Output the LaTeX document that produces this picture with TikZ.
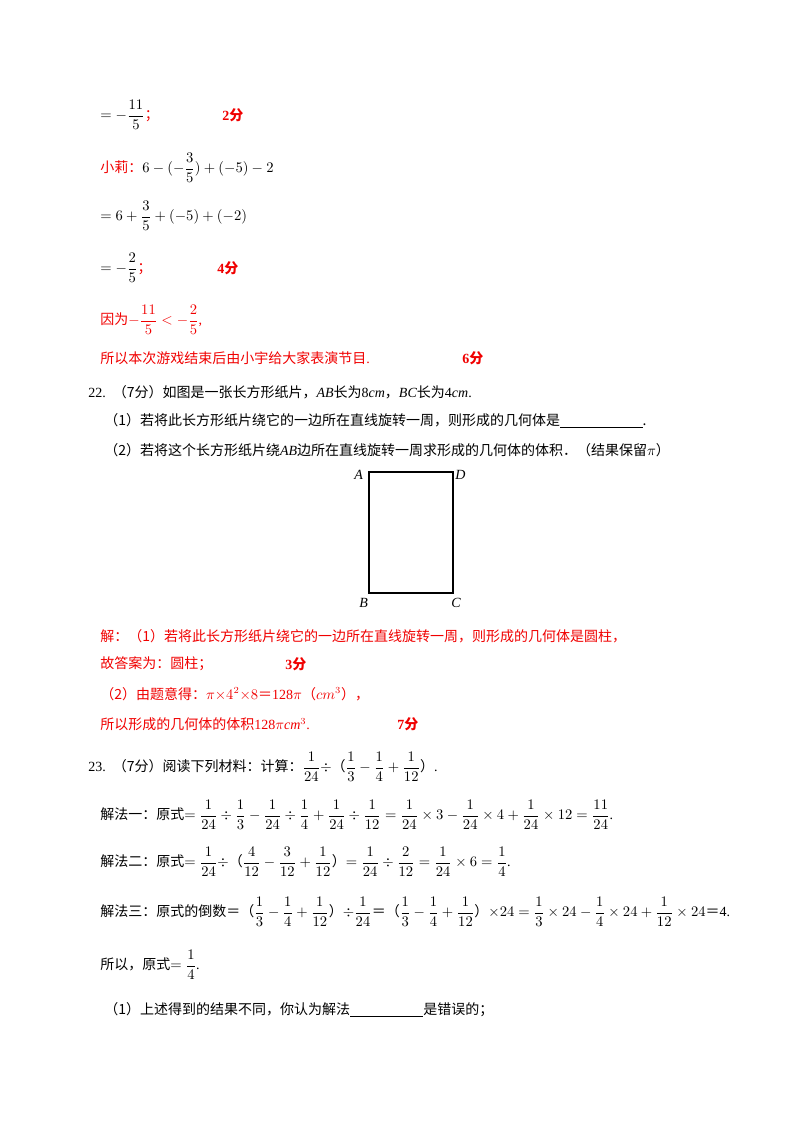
\documentclass[tikz,border=0pt]{standalone}
\usepackage{fontspec}
\usepackage{amsmath}
\setmainfont{Liberation Serif}
\newfontfamily\cjk{Noto Sans CJK SC}
\definecolor{ansred}{RGB}{240,0,0}
\tikzset{line/.style={anchor=west,inner sep=0pt,font=\fontsize{10.5pt}{12pt}\selectfont},
 red/.style={text=ansred},
 score/.style={line,text=ansred,font=\fontsize{10.5pt}{12pt}\selectfont\bfseries}}
\newcommand{\fr}[2]{\dfrac{#1}{#2}}
\newcommand{\blank}[1]{\underline{\hspace{#1}}}
\newcommand{\feq}{{\cjk ＝}}
\begin{document}
\begin{tikzpicture}[x=0.75pt,y=-0.75pt]
\useasboundingbox (0,0) rectangle (800,1132);
\node[line] (l1) at (100,115) {$=-\fr{11}{5}$\textcolor{ansred}{\cjk ；}};
\node[score] (s1) at (222,115) {2\cjk 分};
\node[line] (l2) at (100,168) {\textcolor{ansred}{\cjk 小莉：}$6-(-\fr{3}{5})+(-5)-2$};
\node[line] (l3) at (100,216) {$=6+\fr{3}{5}+(-5)+(-2)$};
\node[line] (l4) at (100,268) {$=-\fr{2}{5}$\textcolor{ansred}{\cjk ；}};
\node[score] (s2) at (217,268) {4\cjk 分};
\node[line,red] (l5) at (100,320) {{\cjk 因为}$-\fr{11}{5}<-\fr{2}{5}$,};
\node[line,red] (l6) at (100,358) {{\cjk 所以本次游戏结束后由小宇给大家表演节目}.};
\node[score] (s3) at (462,358) {6\cjk 分};
\node[line] (l7) at (88,392) {22.\ \ {\cjk （7分）如图是一张长方形纸片，}\textit{AB}{\cjk 长为}8\textit{cm}{\cjk ，}\textit{BC}{\cjk 长为}4\textit{cm}.};
\node[line] (l8) at (104,421) {\cjk （1）若将此长方形纸片绕它的一边所在直线旋转一周，则形成的几何体是\blank{62pt}.};
\node[line] (l9) at (104,450) {{\cjk （2）若将这个长方形纸片绕}\textit{AB}{\cjk 边所在直线旋转一周求形成的几何体的体积．（结果保留}$\pi${\cjk ）}};
\coordinate (A) at (369,472); \coordinate (D) at (453,472);
\coordinate (B) at (369,593); \coordinate (C) at (453,593);
\draw[line width=0.8pt] (A) -- (D) -- (C) -- (B) -- cycle;
\node[line] (la) at (354,475) {\textit{A}};
\node[line] (ld) at (455,475) {\textit{D}};
\node[line] (lb) at (359,603) {\textit{B}};
\node[line] (lc) at (451,603) {\textit{C}};
\node[line,red] (l10) at (100,636) {\cjk 解：（1）若将此长方形纸片绕它的一边所在直线旋转一周，则形成的几何体是圆柱，};
\node[line,red] (l11) at (100,664) {\cjk 故答案为：圆柱；};
\node[score] (s4) at (285,664) {3\cjk 分};
\node[line,red] (l12) at (100,694) {{\cjk （2）由题意得：}$\pi{\times}4^2{\times}8$\feq 128$\pi${\cjk （}$cm^3${\cjk ），}};
\node[line,red] (l13) at (100,724) {{\cjk 所以形成的几何体的体积}128$\pi$\textit{cm}$^3$.};
\node[score] (s5) at (397,724) {7\cjk 分};
\node[line] (l14) at (88,767) {23.\ \ {\cjk （7分）阅读下列材料：计算：}$\fr{1}{24}\div${\cjk （}$\fr13-\fr14+\fr1{12}${\cjk ）}.};
\node[line] (l15) at (100,815) {{\cjk 解法一：原式}$=\fr1{24}\div\fr13-\fr1{24}\div\fr14+\fr1{24}\div\fr1{12}=\fr1{24}\times3-\fr1{24}\times4+\fr1{24}\times12=\fr{11}{24}$.};
\node[line] (l16) at (100,862) {{\cjk 解法二：原式}$=\fr1{24}\div${\cjk （}$\fr4{12}-\fr3{12}+\fr1{12}${\cjk ）}$=\fr1{24}\div\fr2{12}=\fr1{24}\times6=\fr14$.};
\node[line] (l17) at (100,912) {{\cjk 解法三：原式的倒数＝（}$\fr13-\fr14+\fr1{12}${\cjk ）}$\div\fr1{24}$\feq{\cjk （}$\fr13-\fr14+\fr1{12}${\cjk ）}$\times24=\fr13\times24-\fr14\times24+\fr1{12}\times24$\feq 4.};
\node[line] (l18) at (100,965) {{\cjk 所以，原式}$=\fr14$.};
\node[line] (l19) at (104,1010) {\cjk （1）上述得到的结果不同，你认为解法\blank{55pt}是错误的；};
\end{tikzpicture}
\end{document}
